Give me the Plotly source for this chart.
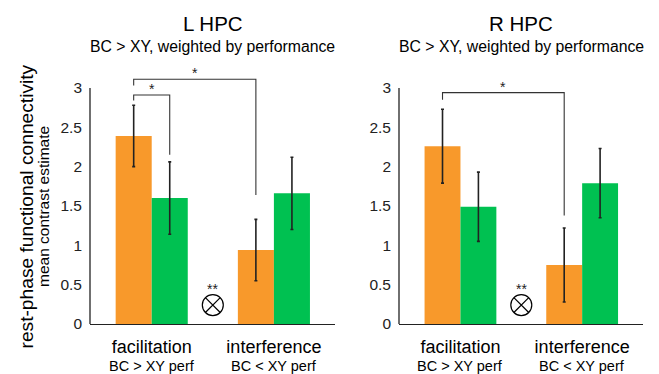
import plotly.graph_objects as go

# ---------------- data ----------------
categories = ["facilitation", "interference"]
sub_labels = ["BC > XY perf", "BC < XY perf"]
cat_pos = [1, 2]

panels = ["L HPC", "R HPC"]
subtitle = "BC > XY, weighted by performance"

L_orange = [2.39, 0.94]
L_orange_err = [0.39, 0.39]
L_green = [1.60, 1.66]
L_green_err = [0.46, 0.46]

R_orange = [2.26, 0.75]
R_orange_err = [0.47, 0.47]
R_green = [1.49, 1.79]
R_green_err = [0.44, 0.44]

# brackets: (cat idx a, series a, cat idx b, series b, level, left end, right end, label)
L_brackets = [(0, "o", 0, "g", 2.91, 2.84, 2.15, "*"),
              (0, "o", 1, "o", 3.11, 3.03, 1.64, "*")]
R_brackets = [(0, "o", 1, "o", 2.94, 2.85, 1.38, "*")]

# interaction marker (x between categories, y)
inter_x = 1.5
inter_y = 0.24
inter_label = "**"
inter_label_y = 0.44

y_ticks = [0, 0.5, 1, 1.5, 2, 2.5, 3]
y_tick_text = ["0", "0.5", "1", "1.5", "2", "2.5", "3"]
y_title = "rest-phase functional connectivity"
y_subtitle = "mean contrast estimate"

# ---------------- style ----------------
ORANGE = "#F8992B"
GREEN = "#00C151"
INK = "#222222"
FONT = "Liberation Sans, Arial, Helvetica, sans-serif"
W, H = 659, 374
BARGAP = 0.41
OFF = (1 - BARGAP) / 4
Y_RANGE = [0, 3.13]

def px_x(p):
    return p / W

def px_y(p):
    return 1 - p / H

x_domains = [[px_x(90), px_x(335)], [px_x(399), px_x(643)]]
y_domain = [px_y(324), px_y(77.7)]

fig = go.Figure()

data = [(L_orange, L_orange_err, L_green, L_green_err, L_brackets),
        (R_orange, R_orange_err, R_green, R_green_err, R_brackets)]

shapes = []
annotations = []
for i, (o, oe, g, ge, brs) in enumerate(data):
    xa = "x" if i == 0 else "x2"
    ya = "y" if i == 0 else "y2"
    fig.add_trace(go.Bar(x=cat_pos, y=o, marker=dict(color=ORANGE, line=dict(width=0)),
                         error_y=dict(type="data", array=oe, visible=True, color=INK,
                                      thickness=1.6, width=1.5),
                         xaxis=xa, yaxis=ya, showlegend=False, name="BC"))
    fig.add_trace(go.Bar(x=cat_pos, y=g, marker=dict(color=GREEN, line=dict(width=0)),
                         error_y=dict(type="data", array=ge, visible=True, color=INK,
                                      thickness=1.6, width=1.5),
                         xaxis=xa, yaxis=ya, showlegend=False, name="XY"))
    # brackets
    for (ca, sa, cb, sb, lvl, le, re_, lab) in brs:
        xa0 = cat_pos[ca] + (-OFF if sa == "o" else OFF)
        xb0 = cat_pos[cb] + (-OFF if sb == "o" else OFF)
        fig.add_trace(go.Scatter(x=[xa0, xa0, xb0, xb0], y=[le, lvl, lvl, re_],
                                 mode="lines", line=dict(color="#333333", width=1.1),
                                 xaxis=xa, yaxis=ya, showlegend=False, hoverinfo="skip",
                                 cliponaxis=False))
        annotations.append(dict(x=(xa0 + xb0) / 2, y=lvl, xref=xa, yref=ya, text=lab,
                                showarrow=False, yanchor="bottom", yshift=-4,
                                font=dict(family=FONT, size=14, color=INK)))
    # interaction marker
    fig.add_trace(go.Scatter(x=[inter_x], y=[inter_y], mode="markers",
                             marker=dict(symbol="circle-x-open", size=21, color="black",
                                         line=dict(width=1.2, color="black")),
                             xaxis=xa, yaxis=ya, showlegend=False, hoverinfo="skip"))
    annotations.append(dict(x=inter_x, y=inter_label_y, xref=xa, yref=ya, text=inter_label,
                            showarrow=False, font=dict(family=FONT, size=14, color=INK)))
    # y axis line (only up to 3)
    shapes.append(dict(type="line", xref=f"{xa} domain", yref=ya, x0=0, x1=0, y0=0, y1=3,
                       line=dict(color=INK, width=1.3)))
    # titles
    annotations.append(dict(x=0.5, y=px_y(23), xref=f"{xa} domain", yref="paper",
                            text=panels[i], showarrow=False, yanchor="middle",
                            font=dict(family=FONT, size=20.5, color="black")))
    annotations.append(dict(x=0.5, y=px_y(46.7), xref=f"{xa} domain", yref="paper",
                            text=subtitle, showarrow=False, yanchor="middle",
                            font=dict(family=FONT, size=15.8, color="black")))
    # sub labels under categories
    for c, s in zip(cat_pos, sub_labels):
        annotations.append(dict(x=c, y=px_y(365.7), xref=xa, yref="paper", text=s,
                                showarrow=False, yanchor="middle",
                                font=dict(family=FONT, size=14.5, color="black")))

# y titles
annotations.append(dict(x=px_x(26), y=px_y(206.5), xref="paper", yref="paper", text=y_title,
                        textangle=-90, showarrow=False, xanchor="center", yanchor="middle",
                        font=dict(family=FONT, size=19.2, color="black")))
annotations.append(dict(x=px_x(43.5), y=px_y(206.5), xref="paper", yref="paper", text=y_subtitle,
                        textangle=-90, showarrow=False, xanchor="center", yanchor="middle",
                        font=dict(family=FONT, size=15.5, color="black")))

xaxis_common = dict(range=[0.495, 2.5], tickvals=cat_pos, ticktext=categories,
                    showgrid=False, zeroline=False, showline=True, linecolor=INK,
                    linewidth=1.3, ticks="", tickfont=dict(family=FONT, size=18, color="black"),
                    ticklabelstandoff=6, automargin=False)
yaxis_common = dict(range=Y_RANGE, tickvals=y_ticks, ticktext=y_tick_text, showgrid=False,
                    zeroline=False, showline=False, ticks="",
                    tickfont=dict(family=FONT, size=15.5, color=INK), ticklabelstandoff=7,
                    domain=y_domain, automargin=False)

fig.update_layout(
    width=W, height=H, margin=dict(l=0, r=0, t=0, b=0),
    paper_bgcolor="white", plot_bgcolor="white",
    barmode="group", bargap=BARGAP, bargroupgap=0,
    xaxis=dict(domain=x_domains[0], anchor="y", **xaxis_common),
    xaxis2=dict(domain=x_domains[1], anchor="y2", **xaxis_common),
    yaxis=dict(anchor="x", **yaxis_common),
    yaxis2=dict(anchor="x2", **yaxis_common),
    shapes=shapes, annotations=annotations,
)

fig.write_html("out.html", post_script="document.body.style.margin='0px';",
               config={"displayModeBar": False})
